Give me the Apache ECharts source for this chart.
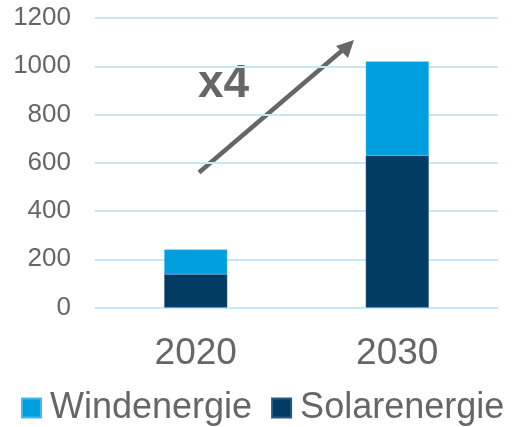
<!DOCTYPE html>
<html>
<head>
<meta charset="utf-8">
<script src="https://cdn.jsdelivr.net/npm/echarts@6/dist/echarts.min.js"></script>
<style>
html,body{margin:0;padding:0;background:#fff;}
#main{width:514px;height:427px;}
</style>
</head>
<body>
<div id="main"></div>
<script>
var categories = ['2020', '2030'];
var solarValues = [138, 630];
var windValues = [102, 390];
var seriesNames = ['Windenergie', 'Solarenergie'];
var yTicks = [0, 200, 400, 600, 800, 1000, 1200];

var chart = echarts.init(document.getElementById('main'), null, {renderer: 'canvas'});
var font = '"Liberation Sans", Arial, sans-serif';
chart.setOption({
  animation: false,
  backgroundColor: '#ffffff',
  grid: {left: 95, right: 16, top: 18, bottom: 119.5, containLabel: false},
  legend: {
    data: seriesNames,
    left: 21, top: 390, width: 493, padding: 0,
    itemWidth: 19, itemHeight: 19, itemGap: 19,
    icon: 'rect',
    textStyle: {fontSize: 36, color: '#666666', fontFamily: font, padding: [0, 0, 0, 4]},
  },
  xAxis: {
    type: 'category',
    data: categories,
    axisLine: {show: false},
    axisTick: {show: false},
    axisLabel: {fontSize: 37, color: '#666666', fontFamily: font, margin: 28}
  },
  yAxis: {
    type: 'value',
    min: yTicks[0], max: yTicks[yTicks.length - 1], interval: 200,
    axisLine: {show: false},
    axisTick: {show: false},
    splitLine: {lineStyle: {color: '#c6e6fa', width: 2}},
    axisLabel: {fontSize: 26, color: '#666666', fontFamily: font, margin: 24,
      formatter: function (v) { return String(v); }}
  },
  series: [
    {name: 'Solarenergie', type: 'bar', stack: 'total', data: solarValues, barWidth: 63,
     itemStyle: {color: '#003c64', borderColor: '#2a5a80', borderWidth: 0.5}},
    {name: 'Windenergie', type: 'bar', stack: 'total', data: windValues, barWidth: 63,
     itemStyle: {color: '#009fe0', borderColor: '#46b8ea', borderWidth: 0.5}}
  ],
  graphic: [
    {type: 'line', shape: {x1: 199, y1: 172.5, x2: 345, y2: 48}, style: {stroke: '#666666', lineWidth: 4.5}},
    {type: 'polygon', shape: {points: [[354, 40], [336, 46], [348, 58]]}, style: {fill: '#666666'}},
    {type: 'text', left: 198, top: 61, style: {text: 'x4', font: 'bold 46px "Liberation Sans", Arial, sans-serif', fill: '#666666'}}
  ]
});
</script>
</body>
</html>
